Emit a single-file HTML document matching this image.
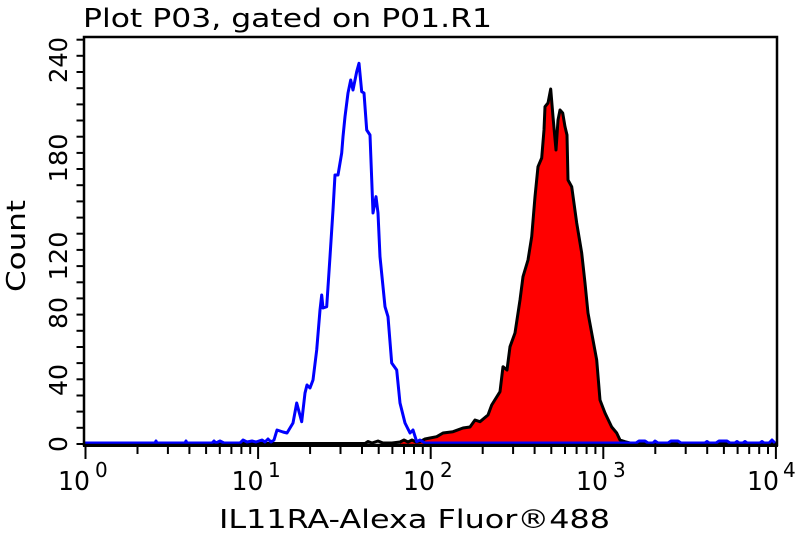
<!DOCTYPE html>
<html>
<head>
<meta charset="utf-8">
<style>
html,body{margin:0;padding:0;background:#fff;}
svg{display:block;}
text{font-family:"DejaVu Sans","Liberation Sans",sans-serif;fill:#000;}
</style>
</head>
<body>
<svg width="800" height="537" viewBox="0 0 800 537" xmlns="http://www.w3.org/2000/svg">
<rect x="0" y="0" width="800" height="537" fill="#fff"/>

<!-- Title -->
<text x="83" y="27" font-size="26" textLength="409" lengthAdjust="spacingAndGlyphs">Plot P03, gated on P01.R1</text>

<!-- Red filled histogram -->
<path fill="#ff0000" stroke="none" d="M400,445 L400,442 404,440 408,442 412,440 416,442 420,441.7 425,439 430,438 436.7,436.7 443,433 453,431.7 463,428 470,427 475,420 480,421.7 488,415 491.7,405 500,391.7 503,366.7 507,370 510,346.7 515,333 520,300 523,276.7 528,260 531.7,236.7 535,196.7 538,166.7 541.7,158 544,130 545,106.7 548,103 550.7,89 553,116.7 556,150 558,120 560,110 562.7,113 565,126.7 567,135 568,180 571.7,186.7 576.7,223 581.7,253 585,283 588,313 591.7,333 596.7,360 600,400 605,413 611.7,427 616.7,433 620,440 625,441.7 630,443 640,444 L640,445 Z"/>
<path fill="none" stroke="#000" stroke-width="3" stroke-linejoin="round" d="M85,443.5 L365,443.5 368,441.5 372,443 378,441 383,443 392,443 400,442 404,440 408,442 412,440 416,442 420,441.7 425,439 430,438 436.7,436.7 443,433 453,431.7 463,428 470,427 475,420 480,421.7 488,415 491.7,405 500,391.7 503,366.7 507,370 510,346.7 515,333 520,300 523,276.7 528,260 531.7,236.7 535,196.7 538,166.7 541.7,158 544,130 545,106.7 548,103 550.7,89 553,116.7 556,150 558,120 560,110 562.7,113 565,126.7 567,135 568,180 571.7,186.7 576.7,223 581.7,253 585,283 588,313 591.7,333 596.7,360 600,400 605,413 611.7,427 616.7,433 620,440 625,441.7 630,443 640,443.5 776,443.5"/>

<!-- Blue histogram -->
<path fill="none" stroke="#0000ff" stroke-width="3" stroke-linejoin="round" d="M85,443 L155,443 156,441 157,443 185,443 186,441 187,443 212,443 214,441 216,443 220,441 224,443 240,443 243,440 247,442 252,441 256,442 262,440 265,442 268,439 271,442 274,440 277,430 283,432 287,433 293,423 296.7,403 301.7,421.7 305,393 307,385 310,388 313,380 316.7,350 320,310 321.7,295 323,308 326.7,306.7 330,256.7 333,210 335,175 338,175 341.7,153 343,136.7 345,116.7 348,93 350.7,80 353,90 356.7,71.7 359,63.3 361.7,91.7 364,93 366.7,130 370,135 373,213 376,196.7 378,213 380,256.7 385,306.7 388,316.7 391.7,363 396.7,370 400,403 405,423 410,433 413,430 416.7,441.7 420,440 425,443 636,443 639,441 645,441 648,443 653,443 655,441 658,443 668,443 671,441 678,441 681,443 705,443 707,441.5 709,443 716,443 719,441 727,441 730,443 735,443 737,441.5 739,443 743,443 745,441.5 747,443 760,443 762,441.5 764,443 769,443 772,440 775,443"/>

<!-- Frame -->
<rect x="84" y="37" width="693" height="408" fill="none" stroke="#000" stroke-width="2.5"/>
<line x1="83" y1="445.5" x2="778" y2="445.5" stroke="#000" stroke-width="3"/>

<!-- Y ticks -->
<g stroke="#000" stroke-width="2">
<line x1="76.5" y1="444" x2="84" y2="444"/>
<line x1="76.5" y1="427.8" x2="84" y2="427.8"/>
<line x1="76.5" y1="411.6" x2="84" y2="411.6"/>
<line x1="76.5" y1="395.5" x2="84" y2="395.5"/>
<line x1="76.5" y1="379.3" x2="84" y2="379.3"/>
<line x1="76.5" y1="363.1" x2="84" y2="363.1"/>
<line x1="76.5" y1="347" x2="84" y2="347"/>
<line x1="76.5" y1="330.8" x2="84" y2="330.8"/>
<line x1="76.5" y1="314.6" x2="84" y2="314.6"/>
<line x1="76.5" y1="298.4" x2="84" y2="298.4"/>
<line x1="76.5" y1="282.3" x2="84" y2="282.3"/>
<line x1="76.5" y1="266.1" x2="84" y2="266.1"/>
<line x1="76.5" y1="249.9" x2="84" y2="249.9"/>
<line x1="76.5" y1="233.7" x2="84" y2="233.7"/>
<line x1="76.5" y1="217.6" x2="84" y2="217.6"/>
<line x1="76.5" y1="201.4" x2="84" y2="201.4"/>
<line x1="76.5" y1="185.2" x2="84" y2="185.2"/>
<line x1="76.5" y1="169" x2="84" y2="169"/>
<line x1="76.5" y1="152.9" x2="84" y2="152.9"/>
<line x1="76.5" y1="136.7" x2="84" y2="136.7"/>
<line x1="76.5" y1="120.5" x2="84" y2="120.5"/>
<line x1="76.5" y1="104.4" x2="84" y2="104.4"/>
<line x1="76.5" y1="88.2" x2="84" y2="88.2"/>
<line x1="76.5" y1="72" x2="84" y2="72"/>
<line x1="76.5" y1="55.8" x2="84" y2="55.8"/>
<line x1="76.5" y1="39.7" x2="84" y2="39.7"/>
</g>

<!-- Y tick labels -->
<g font-size="25" text-anchor="middle">
<text transform="translate(67,444) rotate(-90)">0</text>
<text transform="translate(67,380) rotate(-90)" textLength="32" lengthAdjust="spacingAndGlyphs">40</text>
<text transform="translate(67,313) rotate(-90)" textLength="32" lengthAdjust="spacingAndGlyphs">80</text>
<text transform="translate(67,256) rotate(-90)" textLength="49" lengthAdjust="spacingAndGlyphs">120</text>
<text transform="translate(67,158) rotate(-90)" textLength="49" lengthAdjust="spacingAndGlyphs">180</text>
<text transform="translate(67,60) rotate(-90)" textLength="46" lengthAdjust="spacingAndGlyphs">240</text>
</g>

<!-- Y axis label -->
<text transform="translate(25,246) rotate(-90)" font-size="26" text-anchor="middle" textLength="92" lengthAdjust="spacingAndGlyphs">Count</text>

<!-- X ticks -->
<g stroke="#000" stroke-width="2">
<line x1="85.5" y1="446" x2="85.5" y2="459"/>
<line x1="137.5" y1="446" x2="137.5" y2="454"/>
<line x1="167.9" y1="446" x2="167.9" y2="454"/>
<line x1="189.4" y1="446" x2="189.4" y2="454"/>
<line x1="206.1" y1="446" x2="206.1" y2="454"/>
<line x1="219.8" y1="446" x2="219.8" y2="454"/>
<line x1="231.4" y1="446" x2="231.4" y2="454"/>
<line x1="241.4" y1="446" x2="241.4" y2="454"/>
<line x1="250.2" y1="446" x2="250.2" y2="454"/>
<line x1="258.1" y1="446" x2="258.1" y2="459"/>
<line x1="310.1" y1="446" x2="310.1" y2="454"/>
<line x1="340.5" y1="446" x2="340.5" y2="454"/>
<line x1="362" y1="446" x2="362" y2="454"/>
<line x1="378.7" y1="446" x2="378.7" y2="454"/>
<line x1="392.4" y1="446" x2="392.4" y2="454"/>
<line x1="404" y1="446" x2="404" y2="454"/>
<line x1="414" y1="446" x2="414" y2="454"/>
<line x1="422.8" y1="446" x2="422.8" y2="454"/>
<line x1="430.7" y1="446" x2="430.7" y2="459"/>
<line x1="482.7" y1="446" x2="482.7" y2="454"/>
<line x1="513.1" y1="446" x2="513.1" y2="454"/>
<line x1="534.6" y1="446" x2="534.6" y2="454"/>
<line x1="551.3" y1="446" x2="551.3" y2="454"/>
<line x1="565" y1="446" x2="565" y2="454"/>
<line x1="576.6" y1="446" x2="576.6" y2="454"/>
<line x1="586.6" y1="446" x2="586.6" y2="454"/>
<line x1="595.4" y1="446" x2="595.4" y2="454"/>
<line x1="603.3" y1="446" x2="603.3" y2="459"/>
<line x1="655.3" y1="446" x2="655.3" y2="454"/>
<line x1="685.7" y1="446" x2="685.7" y2="454"/>
<line x1="707.2" y1="446" x2="707.2" y2="454"/>
<line x1="723.9" y1="446" x2="723.9" y2="454"/>
<line x1="737.6" y1="446" x2="737.6" y2="454"/>
<line x1="749.2" y1="446" x2="749.2" y2="454"/>
<line x1="759.2" y1="446" x2="759.2" y2="454"/>
<line x1="768" y1="446" x2="768" y2="454"/>
<line x1="775.9" y1="446" x2="775.9" y2="459"/>
</g>

<!-- X tick labels -->
<g font-size="26">
<text x="58" y="490" textLength="32" lengthAdjust="spacingAndGlyphs">10</text>
<text x="95" y="477" font-size="20">0</text>
<text x="231.5" y="490" textLength="32" lengthAdjust="spacingAndGlyphs">10</text>
<text x="268" y="477" font-size="20">1</text>
<text x="403" y="490" textLength="32" lengthAdjust="spacingAndGlyphs">10</text>
<text x="440" y="477" font-size="20">2</text>
<text x="576" y="490" textLength="32" lengthAdjust="spacingAndGlyphs">10</text>
<text x="613" y="477" font-size="20">3</text>
<text x="747" y="490" textLength="32" lengthAdjust="spacingAndGlyphs">10</text>
<text x="783" y="477" font-size="20">4</text>
</g>

<!-- X axis label -->
<text x="219" y="528" font-size="26" textLength="391" lengthAdjust="spacingAndGlyphs">IL11RA-Alexa Fluor®488</text>
</svg>
</body>
</html>
